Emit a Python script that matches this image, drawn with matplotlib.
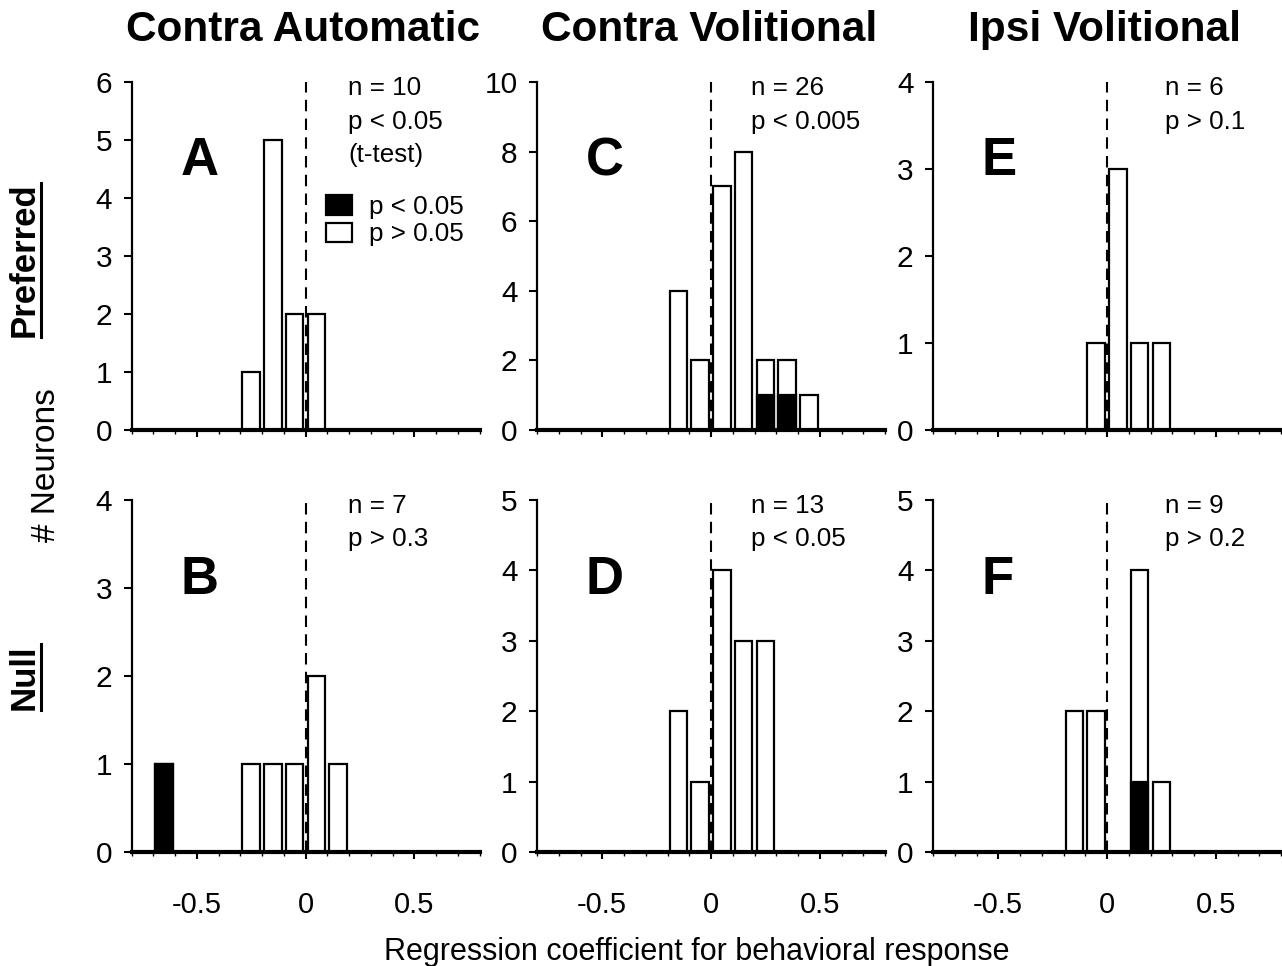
import matplotlib
matplotlib.use("Agg")
import matplotlib.pyplot as plt
from matplotlib.patches import Patch
from matplotlib.lines import Line2D
from matplotlib.ticker import MultipleLocator

plt.rcParams['font.family'] = ['Liberation Sans', 'DejaVu Sans']

# ---------------- data ----------------
col_titles = ["Contra Automatic", "Contra Volitional", "Ipsi Volitional"]
row_labels = ["Preferred", "Null"]

A_centers = [-0.25, -0.15, -0.05, 0.05]
A_total = [1, 5, 2, 2]
A_sig = [0, 0, 0, 0]

B_centers = [-0.65, -0.25, -0.15, -0.05, 0.05, 0.15]
B_total = [1, 1, 1, 1, 2, 1]
B_sig = [1, 0, 0, 0, 0, 0]

C_centers = [-0.15, -0.05, 0.05, 0.15, 0.25, 0.35, 0.45]
C_total = [4, 2, 7, 8, 2, 2, 1]
C_sig = [0, 0, 0, 0, 1, 1, 0]

D_centers = [-0.15, -0.05, 0.05, 0.15, 0.25]
D_total = [2, 1, 4, 3, 3]
D_sig = [0, 0, 0, 0, 0]

E_centers = [-0.05, 0.05, 0.15, 0.25]
E_total = [1, 3, 1, 1]
E_sig = [0, 0, 0, 0]

F_centers = [-0.15, -0.05, 0.15, 0.25]
F_total = [2, 2, 4, 1]
F_sig = [0, 0, 1, 0]

A_stats = "n = 10\np < 0.05\n(t-test)"
B_stats = "n = 7\np > 0.3"
C_stats = "n = 26\np < 0.005"
D_stats = "n = 13\np < 0.05"
E_stats = "n = 6\np > 0.1"
F_stats = "n = 9\np > 0.2"

ymax = {"A": 6, "B": 4, "C": 10, "D": 5, "E": 4, "F": 5}
ystep = {"A": 1, "B": 1, "C": 2, "D": 1, "E": 1, "F": 1}
x_ticks = [-0.5, 0, 0.5]
x_ticklabels = ["-0.5", "0", "0.5"]
legend_labels = ["p < 0.05", "p > 0.05"]
xlabel = "Regression coefficient for behavioral response"
ylabel = "# Neurons"

panels = {
    "A": (A_centers, A_total, A_sig, A_stats),
    "B": (B_centers, B_total, B_sig, B_stats),
    "C": (C_centers, C_total, C_sig, C_stats),
    "D": (D_centers, D_total, D_sig, D_stats),
    "E": (E_centers, E_total, E_sig, E_stats),
    "F": (F_centers, F_total, F_sig, F_stats),
}

# ---------------- layout ----------------
W, H = 1282, 966
fig = plt.figure(figsize=(W / 100, H / 100), dpi=100)

col_left_px = [131.5, 537, 933]
ax_w_px = 348
rows_px = [(82, 430), (500, 852)]
stat_x = [0.623, 0.614, 0.667]

grid = [["A", "C", "E"], ["B", "D", "F"]]
axes = {}
for r in range(2):
    top, bot = rows_px[r]
    for c in range(3):
        key = grid[r][c]
        ax = fig.add_axes([col_left_px[c] / W, 1 - bot / H, ax_w_px / W, (bot - top) / H])
        axes[key] = ax
        centers, total, sig, stats = panels[key]
        ax.bar(centers, total, width=0.08, facecolor="white", edgecolor="black",
               linewidth=1.6, zorder=2)
        ax.bar(centers, sig, width=0.08, facecolor="black", edgecolor="black",
               linewidth=1.6, zorder=3)
        ax.axvline(0, color="black", linestyle=(0, (5.5, 3.5)), linewidth=1.5, zorder=4)
        ax.set_xlim(-0.8, 0.8)
        ax.set_ylim(0, ymax[key])
        ax.yaxis.set_major_locator(MultipleLocator(ystep[key]))
        ax.set_xticks(x_ticks)
        ax.xaxis.set_minor_locator(MultipleLocator(0.1))
        if r == 1:
            ax.set_xticklabels(x_ticklabels, fontsize=21)
        else:
            ax.set_xticklabels([])
        ax.tick_params(axis="y", direction="out", length=6, width=1.5, labelsize=21.5, pad=8)
        ax.tick_params(axis="x", which="major", direction="out", length=5, width=1.5, pad=23)
        ax.tick_params(axis="x", which="minor", direction="out", length=3, width=1.0)
        for s in ["top", "right"]:
            ax.spines[s].set_visible(False)
        ax.spines["left"].set_linewidth(1.6)
        ax.spines["bottom"].set_linewidth(3)
        ax.spines["bottom"].set_zorder(5)
        ax.text(0.14, 0.732, key, transform=ax.transAxes, fontsize=38,
                fontweight="bold", ha="left", va="baseline")
        ax.text(stat_x[c], 1.016, stats, transform=ax.transAxes, fontsize=18.7,
                ha="left", va="top", linespacing=1.48)
        ax.patch.set_alpha(0)

# legend in panel A
axes["A"].legend(handles=[Patch(facecolor="black", edgecolor="black", linewidth=1.6),
                          Patch(facecolor="white", edgecolor="black", linewidth=1.6)],
                 labels=legend_labels, loc="upper left", bbox_to_anchor=(0.53, 0.705),
                 frameon=False, fontsize=18.7, handlelength=1.0, handleheight=0.75,
                 handletextpad=0.65, labelspacing=0.12, borderaxespad=0)

# column titles
col_centers_px = [col_left_px[c] + ax_w_px / 2 for c in range(3)]
for c in range(3):
    fig.text((col_centers_px[c] - 2) / W, 1 - 30 / H, col_titles[c], fontsize=30.5,
             fontweight="bold", ha="center", va="center")

# row labels with underline
fig.canvas.draw()
renderer = fig.canvas.get_renderer()
row_label_y = [260, 677]
for i, lab in enumerate(row_labels):
    t = fig.text(24 / W, 1 - row_label_y[i] / H, lab, fontsize=25, fontweight="bold",
                 rotation=90, ha="center", va="center")
    bb = t.get_window_extent(renderer=renderer)
    ux = (24 + 17) / W
    line = Line2D([ux, ux], [bb.y0 / H, bb.y1 / H], color="black", linewidth=2.2,
                  transform=fig.transFigure)
    fig.add_artist(line)

fig.text(47 / W, 1 - 465 / H, ylabel, fontsize=24, rotation=90, ha="center", va="center")
fig.text(697 / W, 1 - 960 / H, xlabel, fontsize=22, ha="center", va="baseline")

fig.savefig("out.png", dpi=100)
